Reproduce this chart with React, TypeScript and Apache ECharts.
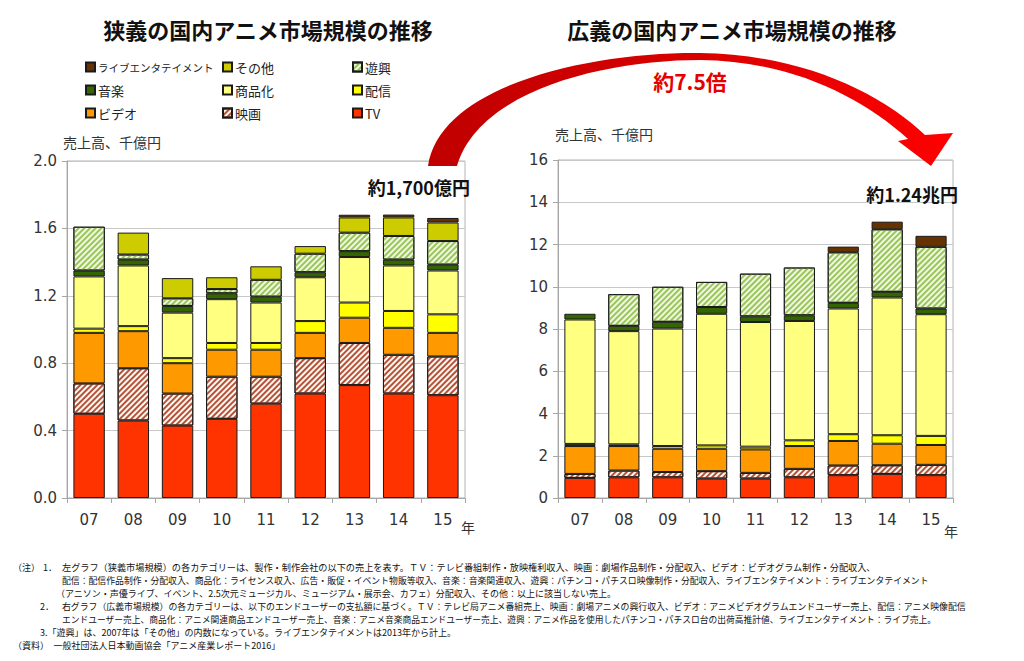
import React, { useEffect, useRef } from 'react';
import * as echarts from 'echarts';

const categories = ['07', '08', '09', '10', '11', '12', '13', '14', '15'];
const seriesNames = ['TV', '映画', 'ビデオ', '配信', '商品化', '音楽', '遊興', 'その他', 'ライブエンタテイメント'];

// 狭義 (left), 千億円
const tvL = [0.50, 0.46, 0.43, 0.47, 0.56, 0.62, 0.67, 0.62, 0.61];
const movieL = [0.18, 0.31, 0.19, 0.25, 0.16, 0.21, 0.25, 0.23, 0.23];
const videoL = [0.30, 0.22, 0.18, 0.16, 0.16, 0.15, 0.15, 0.16, 0.14];
const distL = [0.025, 0.03, 0.03, 0.04, 0.04, 0.07, 0.09, 0.10, 0.11];
const merchL = [0.31, 0.36, 0.27, 0.26, 0.24, 0.26, 0.27, 0.27, 0.26];
const musicL = [0.035, 0.035, 0.04, 0.035, 0.035, 0.03, 0.035, 0.035, 0.035];
const pachiL = [0.26, 0.03, 0.045, 0.025, 0.10, 0.11, 0.11, 0.14, 0.14];
const otherL = [null, 0.13, 0.12, 0.07, 0.08, 0.045, 0.09, 0.11, 0.11];
const liveL = [null, null, null, null, null, null, 0.016, 0.017, 0.027];

// 広義 (right), 千億円
const tvR = [0.95, 0.98, 0.98, 0.92, 0.92, 0.98, 1.08, 1.14, 1.08];
const movieR = [0.19, 0.32, 0.25, 0.35, 0.27, 0.40, 0.46, 0.41, 0.49];
const videoR = [1.32, 1.16, 1.10, 1.06, 1.11, 1.08, 1.16, 1.02, 0.94];
const distR = [0.10, 0.08, 0.13, 0.16, 0.13, 0.27, 0.32, 0.40, 0.43];
const merchR = [5.89, 5.36, 5.56, 6.23, 5.90, 5.65, 5.95, 6.52, 5.76];
const musicR = [0.27, 0.25, 0.32, 0.32, 0.27, 0.27, 0.27, 0.27, 0.27];
const pachiR = [null, 1.50, 1.66, 1.19, 2.02, 2.26, 2.39, 2.96, 2.92];
const otherR = [null, null, null, null, null, null, null, null, null];
const liveR = [null, null, null, null, null, null, 0.27, 0.36, 0.52];

const leftData = [tvL, movieL, videoL, distL, merchL, musicL, pachiL, otherL, liveL];
const rightData = [tvR, movieR, videoR, distR, merchR, musicR, pachiR, otherR, liveR];

const leftTicks = [0, 0.4, 0.8, 1.2, 1.6, 2.0];
const rightTicks = [0, 2, 4, 6, 8, 10, 12, 14, 16];

// notes: x start, text, row, target right edge (0 = default size)
const notes = [
  { x: 13, t: '（注）', row: 0, end: 0 },
  { x: 43, t: '1．', row: 0, end: 0 },
  { x: 62, t: '左グラフ（狭義市場規模）の各カテゴリーは、製作・制作会社の以下の売上を表す。ＴＶ：テレビ番組制作・放映権利収入、映画：劇場作品制作・分配収入、ビデオ：ビデオグラム制作・分配収入、', row: 0, end: 877 },
  { x: 62, t: '配信：配信作品制作・分配収入、商品化：ライセンス収入、広告・販促・イベント物販等収入、音楽：音楽関連収入、遊興：パチンコ・パチスロ映像制作・分配収入、ライブエンタテイメント：ライブエンタテイメント', row: 1, end: 930 },
  { x: 56, t: '（アニソン・声優ライブ、イベント、2.5次元ミュージカル、ミュージアム・展示会、カフェ）分配収入、その他：以上に該当しない売上。', row: 2, end: 0 },
  { x: 40, t: '2．', row: 3, end: 0 },
  { x: 62, t: '右グラフ（広義市場規模）の各カテゴリーは、以下のエンドユーザーの支払額に基づく。ＴＶ：テレビ局アニメ番組売上、映画：劇場アニメの興行収入、ビデオ：アニメビデオグラムエンドユーザー売上、配信：アニメ映像配信', row: 3, end: 968 },
  { x: 62, t: 'エンドユーザー売上、商品化：アニメ関連商品エンドユーザー売上、音楽：アニメ音楽商品エンドユーザー売上、遊興：アニメ作品を使用したパチンコ・パチスロ台の出荷高推計値、ライブエンタテイメント：ライブ売上。', row: 4, end: 937 },
  { x: 40, t: '3.「遊興」は、2007年は「その他」の内数になっている。ライブエンタテイメントは2013年から計上。', row: 5, end: 0 },
  { x: 13, t: '（資料）　一般社団法人日本動画協会「アニメ産業レポート2016」', row: 6, end: 0 },
];

const JP = '"Noto Sans CJK JP", sans-serif';
const NUM = '"DejaVu Sans", Verdana, sans-serif';

const hatch = (color: string) => ({
  symbol: 'rect',
  symbolSize: 1,
  dashArrayX: [1, 0],
  dashArrayY: [2, 2],
  rotation: -Math.PI / 4,
  color,
});

const styles: Record<string, any> = {
  TV: { color: '#FF3300' },
  映画: { color: '#FFF8F0', decal: hatch('#B4523A') },
  ビデオ: { color: '#FF9900' },
  配信: { color: '#FFFF00' },
  商品化: { color: '#FFFF80' },
  音楽: { color: '#336600' },
  遊興: { color: '#F0F8E0', decal: hatch('#99C55A') },
  その他: { color: '#CCCC00' },
  ライブエンタテイメント: { color: '#663300' },
};

const arrowD =
  'M428,166 C440,85 590,52 700,53 C800,54 880,92 925,135 L953,133 L931,166 L898,141 L908,139 C860,96 790,61 700,60 C610,60 480,88 457,166 Z';

function fitSize(t: string, width: number, fallback: number) {
  if (width <= 0) return fallback;
  try {
    const ctx = document.createElement('canvas').getContext('2d')!;
    ctx.font = '10px "Noto Sans CJK JP"';
    const w = ctx.measureText(t).width;
    if (!w) return fallback;
    return Math.min(10, (10 * width) / w);
  } catch (e) {
    return fallback;
  }
}

export default function App() {
  const ref = useRef<HTMLDivElement>(null);
  useEffect(() => {
    echarts.graphic.registerShape('bigArrow', echarts.graphic.extendPath(arrowD, {}));
    const chart = echarts.init(ref.current!, null, { renderer: 'svg' });

    const makeSeries = (data: any[][], idx: number, stack: string) =>
      seriesNames.map((name, i) => ({
        name,
        type: 'bar',
        stack,
        xAxisIndex: idx,
        yAxisIndex: idx,
        barWidth: '71%',
        data: data[i],
        itemStyle: { ...styles[name], borderColor: '#1a1a1a', borderWidth: 1 },
        emphasis: { disabled: true },
      }));

    const xAxisBase = (gridIndex: number) => ({
      type: 'category',
      gridIndex,
      data: categories,
      axisLine: { lineStyle: { color: '#a6a6a6' } },
      axisTick: { show: true, length: 5, lineStyle: { color: '#a6a6a6' } },
      axisLabel: { fontFamily: NUM, fontSize: 15, color: '#333', margin: 14 },
    });

    const yAxisBase = (gridIndex: number, max: number, interval: number, digits: number) => ({
      type: 'value',
      gridIndex,
      min: 0,
      max,
      interval,
      axisLine: { show: true, lineStyle: { color: '#a6a6a6' } },
      axisTick: { show: true, length: 5, lineStyle: { color: '#a6a6a6' } },
      splitLine: { lineStyle: { color: '#c8c8c8' } },
      axisLabel: {
        fontFamily: NUM,
        fontSize: 15,
        color: '#333',
        margin: 10,
        formatter: (v: number) => v.toFixed(digits),
      },
    });

    const legendCol = (left: number, data: any[]) => ({
      orient: 'vertical',
      left,
      top: 55,
      itemWidth: 9,
      itemHeight: 9,
      itemGap: 9,
      selectedMode: false,
      icon: 'rect',
      data,
      textStyle: { fontFamily: JP, fontSize: 13, color: '#222', lineHeight: 14, padding: [0, 0, 0, -2] },
    });

    const text = (x: number, y: number, t: string, extra: any = {}) => ({
      type: 'text',
      x,
      y,
      z: 100,
      style: {
        text: t,
        fontFamily: JP,
        fontSize: 13,
        fill: '#333',
        textVerticalAlign: 'middle',
        ...extra,
      },
    });

    const noteY = [567, 580, 593, 606, 619, 632, 645];

    chart.setOption({
      animation: false,
      backgroundColor: '#fff',
      grid: [
        { left: 67, top: 161, width: 398, height: 337, show: true, borderColor: '#b4b4b4', borderWidth: 1 },
        { left: 558, top: 160, width: 395, height: 338, show: true, borderColor: '#b4b4b4', borderWidth: 1 },
      ],
      xAxis: [xAxisBase(0), xAxisBase(1)],
      yAxis: [
        { ...yAxisBase(0, leftTicks[leftTicks.length - 1], leftTicks[1] - leftTicks[0], 1) },
        { ...yAxisBase(1, rightTicks[rightTicks.length - 1], rightTicks[1] - rightTicks[0], 0) },
      ],
      legend: [
        legendCol(80, [
          { name: 'ライブエンタテイメント', textStyle: { fontSize: 10.5 } },
          '音楽',
          'ビデオ',
        ]),
        legendCol(217, ['その他', '商品化', '映画']),
        legendCol(347, ['遊興', '配信', 'TV']),
      ],
      series: [...makeSeries(leftData, 0, 'L'), ...makeSeries(rightData, 1, 'R')],
      graphic: [
        {
          type: 'bigArrow',
          x: 0,
          y: 0,
          z: 90,
          style: {
            fill: new echarts.graphic.LinearGradient(0, 0, 1, 0, [
              { offset: 0, color: '#C00000' },
              { offset: 0.5, color: '#D80000' },
              { offset: 1, color: '#FF0000' },
            ]),
            stroke: 'none',
          },
        },
        text(268, 29, '狭義の国内アニメ市場規模の推移', { fontSize: 22, fontWeight: 'bold', fill: '#111', textAlign: 'center' }),
        text(732, 29, '広義の国内アニメ市場規模の推移', { fontSize: 22, fontWeight: 'bold', fill: '#111', textAlign: 'center' }),
        text(690, 81, '約7.5倍', { fontSize: 21, fontWeight: 'bold', fill: '#E60000', textAlign: 'center' }),
        text(63, 142, '売上高、千億円', { fontSize: 14 }),
        text(555, 134, '売上高、千億円', { fontSize: 14 }),
        text(470, 187, '約1,700億円', { fontSize: 18, fontWeight: 'bold', fill: '#111', textAlign: 'right' }),
        text(958, 194, '約1.24兆円', { fontSize: 18, fontWeight: 'bold', fill: '#111', textAlign: 'right' }),
        text(461, 527, '年', { fontSize: 14 }),
        text(944, 531, '年', { fontSize: 14 }),
        ...notes.map((n) =>
          text(n.x, noteY[n.row], n.t, {
            fontSize: fitSize(n.t, n.end > 0 ? n.end - n.x : 0, 9),
            fill: '#111',
          })
        ),
      ],
    });
    return () => chart.dispose();
  }, []);
  return (
    <div
      ref={ref}
      style={{ position: 'absolute', left: 0, top: 0, width: 1024, height: 661, background: '#fff' }}
    />
  );
}
